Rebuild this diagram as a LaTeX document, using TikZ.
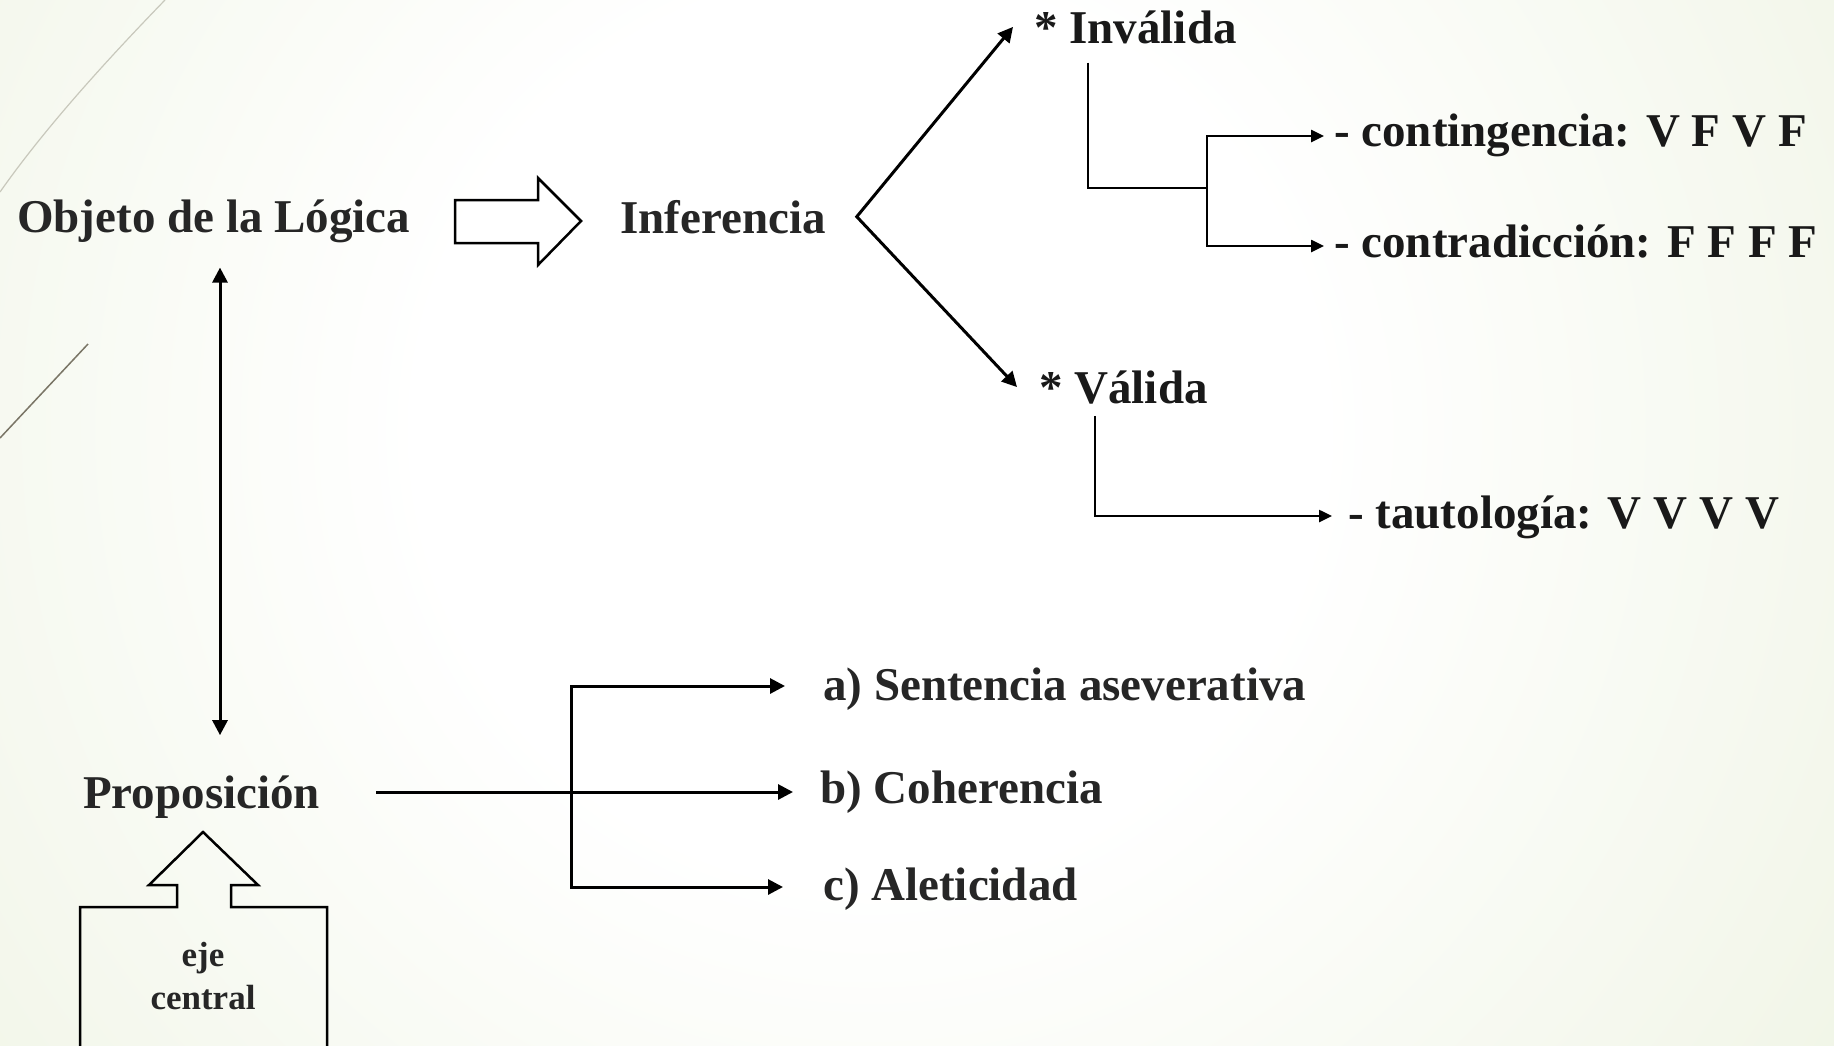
\documentclass[tikz,border=0pt]{standalone}
\usepackage{fontspec}
\setmainfont{Liberation Serif}
\usepackage{tikz}
\usepackage{xcolor}
\usetikzlibrary{arrows.meta, positioning}

\definecolor{bggreen}{RGB}{226,235,206}
\definecolor{inkgrey}{RGB}{38,38,38}
\definecolor{wispgrey}{RGB}{200,200,188}
\definecolor{wispdark}{RGB}{122,117,102}

\pgfdeclareradialshading{slidebg}{\pgfpoint{0bp}{0bp}}{color(0bp)=(white); color(8bp)=(white); color(34bp)=(bggreen); color(50bp)=(bggreen)}

\tikzstyle{concept} = [inner sep=0pt, text=inkgrey, font=\fontsize{47}{56}\selectfont\bfseries]
\tikzstyle{leaf} = [concept, text=black!90]
\tikzstyle{note} = [inner sep=0pt, text=inkgrey, align=center, font=\fontsize{35}{43}\selectfont\bfseries]
\tikzstyle{arrow} = [line width=3pt, -{Triangle[length=15pt, width=15pt]}]
\tikzstyle{dblarrow} = [line width=3pt, {Triangle[length=15pt, width=15pt]}-{Triangle[length=15pt, width=15pt]}]
\tikzstyle{thinarrow} = [line width=2.5pt, -{Triangle[length=13pt, width=12pt]}]
\tikzstyle{link} = [line width=2.5pt]
\tikzstyle{blockarrow} = [draw, line width=2.5pt, line join=miter]

\begin{document}
\begin{tikzpicture}[x=1pt, y=-1pt]

            % Background
            \useasboundingbox (0,0) rectangle (1834,1045);
            \begin{scope}
                \clip (0,0) rectangle (1834,1045);
                \fill[bggreen] (0,0) rectangle (1834,1045);
                \shade[shading=slidebg] (870,430) circle[radius=1400pt];
            \end{scope}
            \draw[wispgrey, line width=1.2pt] (165,0) .. controls (105,62) and (45,128) .. (0,192);
            \draw[wispdark, line width=1.5pt] (88,344) -- (0,438);

            % Nodes
            \node (objeto) [concept, anchor=base west] at (17,232) {Objeto de la Lógica};
            \node (inferencia) [concept, anchor=base west] at (620,233) {Inferencia};
            \node (invalida) [leaf, anchor=base west] at (1034,43) {* Inválida};
            \node (valida) [leaf, anchor=base west] at (1039,403) {* Válida};
            \node (contingencia) [leaf, anchor=base west] at (1334,146) {- contingencia: V F V F};
            \node (contradiccion) [leaf, anchor=base west] at (1334,257) {- contradicción: F F F F};
            \node (tautologia) [leaf, anchor=base west] at (1348,528) {- tautología: V V V V};
            \node (proposicion) [concept, anchor=base west] at (83,808) {Proposición};
            \node (sentencia) [concept, anchor=base west] at (823,700) {a) Sentencia aseverativa};
            \node (coherencia) [concept, anchor=base west] at (820,803) {b) Coherencia};
            \node (aleticidad) [concept, anchor=base west] at (823,900) {c) Aleticidad};
            \node (eje) [note] at (203,976) {eje\\central};

            \coordinate (apex) at ([xshift=31pt]inferencia.east);
            \coordinate (axis) at (220,0);
            \coordinate (fork) at (1207,188);
            \coordinate (brace) at (571,0);
            \coordinate (propout) at ([xshift=56pt]proposicion.east);
            \coordinate (sentin) at ([xshift=-38pt, yshift=14pt]sentencia.base west);
            \coordinate (coherin) at ([xshift=-27pt, yshift=11pt]coherencia.base west);
            \coordinate (aletin) at ([xshift=-40pt, yshift=13pt]aleticidad.base west);

            % Block arrows
            \draw[blockarrow] (455,200) -- (538,200) -- (538,178) -- (581,221) -- (538,265) -- (538,243) -- (455,243) -- cycle;
            \draw[blockarrow] (80,1060) -- (80,907) -- (177,907) -- (177,885) -- (149,885) -- (203,832) -- (258,885) -- (231,885) -- (231,907) -- (327,907) -- (327,1060);

            % Arrows
            \draw[dblarrow, shorten <=25pt, shorten >=40pt] (objeto.south -| axis) -- (proposicion.north -| axis);
            \draw[dblarrow] ([xshift=-21pt]invalida.west) -- (apex) -- ([xshift=-22pt]valida.west);
            \draw[link] ([xshift=54pt, yshift=-19pt]invalida.south west) |- (fork);
            \draw[thinarrow] (fork) |- ([xshift=-10pt, yshift=10pt]contingencia.base west);
            \draw[thinarrow] (fork) |- ([xshift=-10pt, yshift=11pt]contradiccion.base west);
            \draw[thinarrow] ([xshift=56pt, yshift=-12pt]valida.south west) |- ([xshift=-16pt, yshift=12pt]tautologia.base west);
            \draw[arrow] (propout |- coherin) -- (coherin);
            \draw[dblarrow] (sentin) -- (sentin -| brace) -- (aletin -| brace) -- (aletin);

\end{tikzpicture}
\end{document}
